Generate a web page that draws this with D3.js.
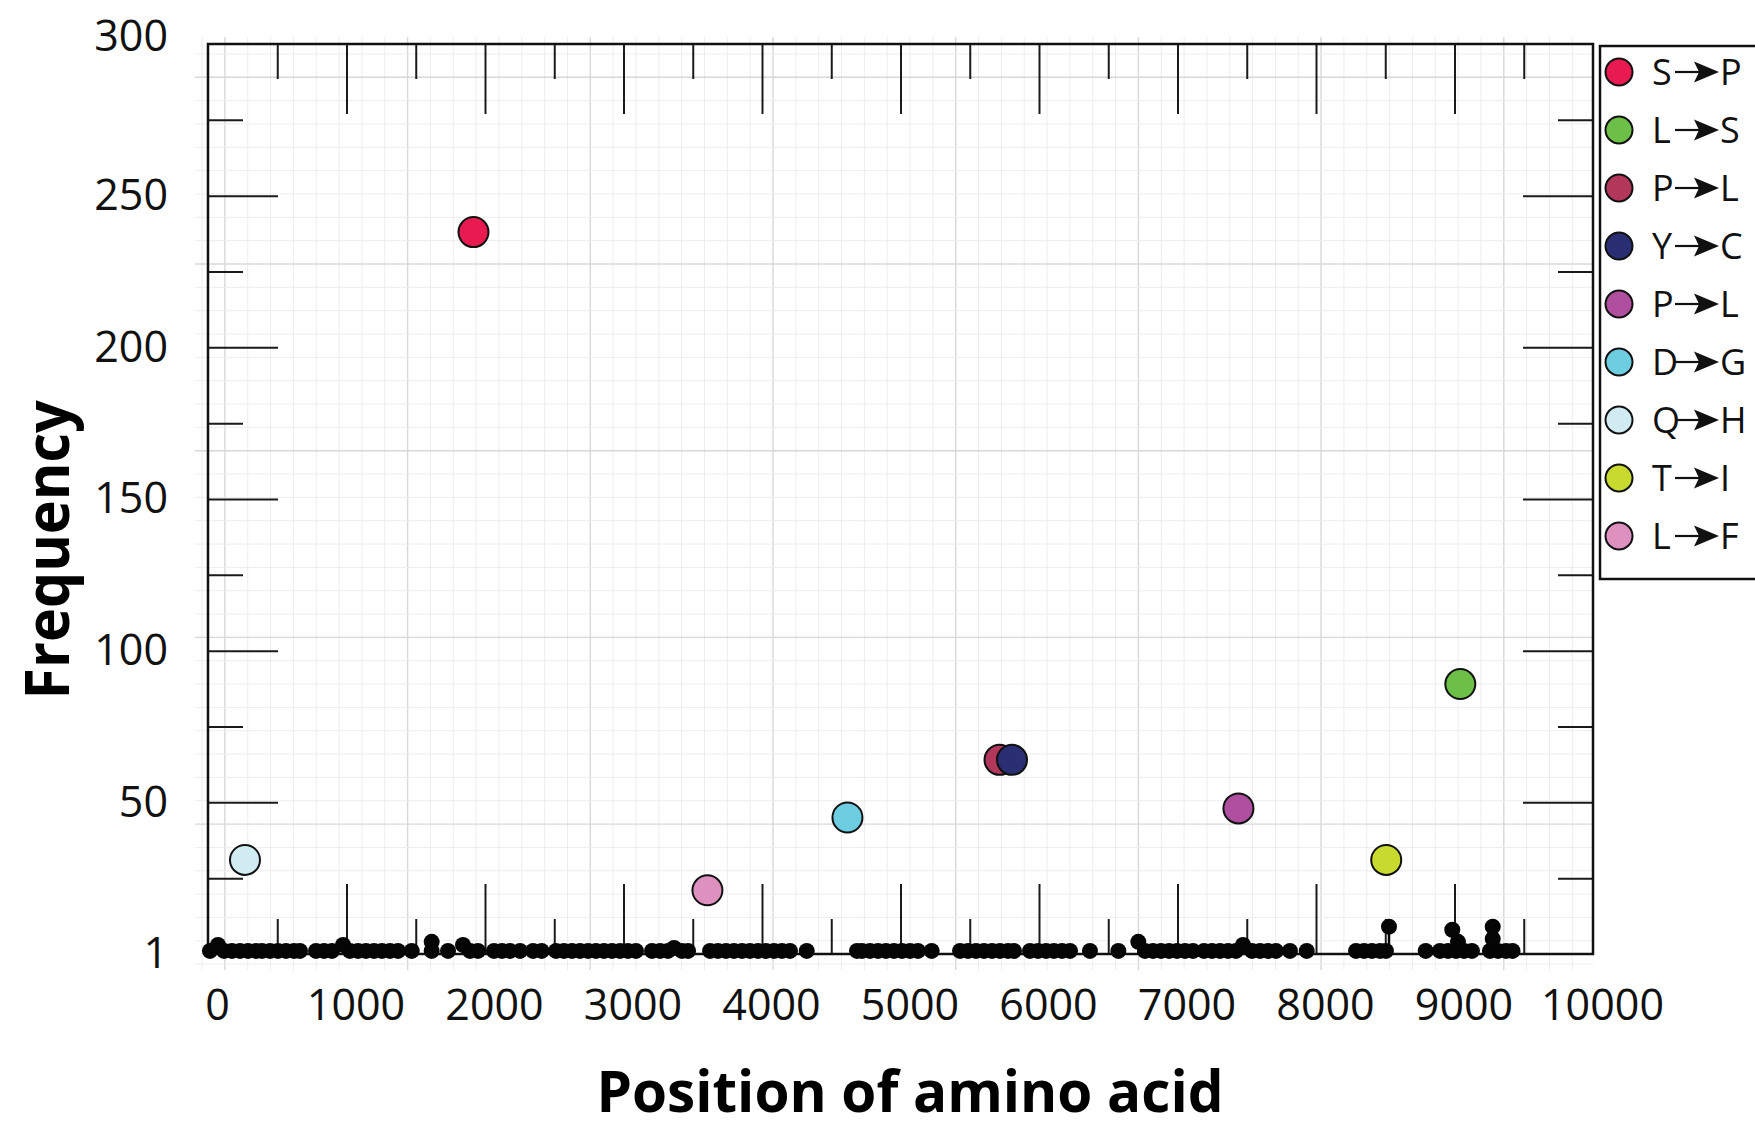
<!DOCTYPE html>
<html>
<head>
<meta charset="utf-8">
<script src="https://cdn.jsdelivr.net/npm/d3@7"></script>
<style>
body { margin: 0; background: #fff; }
svg { display: block; }
</style>
</head>
<body>
<script>
var width = 1755
var height = 1131
var left = 208, right = 1593, top_ = 44, bottom = 954
var font = "'Open Sans', 'Noto Sans', sans-serif"

// tick values and labels
var x_long = [1000, 2000, 3000, 4000, 5000, 6000, 7000, 8000, 9000]
var x_short = [500, 1500, 2500, 3500, 4500, 5500, 6500, 7500, 8500, 9500]
var x_label_vals = [0, 1000, 2000, 3000, 4000, 5000, 6000, 7000, 8000, 9000, 10000]
var y_long = [50, 100, 150, 200, 250]
var y_short = [25, 75, 125, 175, 225, 275]
var y_label_vals = [0, 50, 100, 150, 200, 250, 300]
var y_labels = ["1", "50", "100", "150", "200", "250", "300"]

// highlighted substitutions (legend order)
var mut_from = ["S", "L", "P", "Y", "P", "D", "Q", "T", "L"]
var mut_to = ["P", "S", "L", "C", "L", "G", "H", "I", "F"]
var mut_pos = [1917, 9042, 5715, 5805, 7440, 4617, 267, 8507, 3606]
var mut_freq = [238, 89, 64, 64, 48, 45, 31, 31, 21]
var mut_colors = ["#e81a50", "#6cbf47", "#b2375b", "#2a2e73", "#b04fa0", "#6dcde1", "#d0ebf1", "#c9da2e", "#de90bf"]

// other substitutions seen once
var low_pos = [14, 116, 173, 231, 289, 347, 390, 448, 505, 563, 621, 664, 780, 838, 895,
  1025, 1083, 1141, 1199, 1256, 1314, 1372, 1471, 1615, 1733, 1892, 1949, 2065, 2123,
  2181, 2253, 2347, 2409, 2513, 2570, 2628, 2686, 2744, 2801, 2859, 2917, 2975, 3032,
  3090, 3206, 3264, 3321, 3422, 3466, 3625, 3682, 3740, 3798, 3856, 3913, 3971, 4029,
  4087, 4144, 4202, 4323, 4686, 4722, 4780, 4838, 4895, 4953, 5011, 5069, 5126, 5225,
  5430, 5487, 5545, 5603, 5661, 5718, 5776, 5819, 5935, 5993, 6051, 6108, 6166, 6224,
  6368, 6573, 6765, 6823, 6881, 6939, 6996, 7054, 7112, 7191, 7249, 7307, 7365, 7422,
  7538, 7596, 7653, 7711, 7812, 7933, 8289, 8347, 8404, 8462, 8505, 8792, 8895, 8953,
  9011, 9069, 9126, 9256, 9314, 9372, 9419]
// a few seen more than once
var raised_pos = [72, 975, 1615, 1841, 3365, 6717, 7473, 8527, 8984, 9025, 9276, 9276]
var raised_freq = [3, 3, 4, 3, 2, 4, 3, 9, 8, 4, 9, 5]

var x = d3.scaleLinear()
.domain([0, 10000])
.range([left, right])

var y = d3.scaleLinear()
.domain([0, 300])
.range([bottom, top_])

var svg = d3.select("body").append("svg")
.attr("width", width)
.attr("height", height)

// graph paper behind the plot
var grid = svg.append("g")
var step_x = 182.7 / 8, step_y = 186.7 / 8
for (var i = -1; 224.9 + i * step_x <= right; i++) {
    var gx = 224.9 + i * step_x
    grid.append("line")
    .attr("x1", gx).attr("x2", gx).attr("y1", 37).attr("y2", 970)
    .attr("stroke", i % 8 == 0 ? "#d8d8d8" : "#ededed")
    .attr("stroke-width", i % 8 == 0 ? 1.4 : 1)
}
for (var j = -1; 77.3 + j * step_y <= 970; j++) {
    var gy = 77.3 + j * step_y
    grid.append("line")
    .attr("x1", 195).attr("x2", right).attr("y1", gy).attr("y2", gy)
    .attr("stroke", j % 8 == 0 ? "#d8d8d8" : "#ededed")
    .attr("stroke-width", j % 8 == 0 ? 1.4 : 1)
}

function ticks(axis, tr, vals, size) {
    svg.append("g")
    .attr("transform", tr)
    .call(axis.tickValues(vals).tickSize(size).tickFormat(""))
    .call(function(g) { g.select(".domain").remove() })
    .selectAll("line")
    .attr("stroke", "#1a1a1a")
    .attr("stroke-width", 2)
}

ticks(d3.axisTop(x), "translate(0," + top_ + ")", x_long, -70)
ticks(d3.axisTop(x), "translate(0," + top_ + ")", x_short, -35)
ticks(d3.axisBottom(x), "translate(0," + bottom + ")", x_long, -70)
ticks(d3.axisBottom(x), "translate(0," + bottom + ")", x_short, -35)
ticks(d3.axisLeft(y), "translate(" + left + ",0)", y_long, -70)
ticks(d3.axisLeft(y), "translate(" + left + ",0)", y_short, -35)
ticks(d3.axisRight(y), "translate(" + right + ",0)", y_long, -70)
ticks(d3.axisRight(y), "translate(" + right + ",0)", y_short, -35)

svg.append("rect")
.attr("x", left).attr("y", top_)
.attr("width", right - left).attr("height", bottom - top_)
.attr("fill", "none")
.attr("stroke", "#111")
.attr("stroke-width", 2.5)

// tick labels
svg.append("g")
.attr("transform", "translate(" + left + ",0)")
.call(d3.axisLeft(y).tickValues(y_label_vals).tickSize(0).tickPadding(40)
    .tickFormat(function(d, i) { return y_labels[i] }))
.call(function(g) { g.select(".domain").remove() })
.selectAll("text")
.attr("dy", function(d) { return d == 300 ? "0.15em" : "0.32em" })
.attr("font-family", font)
.attr("font-size", 43)
.attr("fill", "#111")

svg.append("g")
.attr("transform", "translate(0," + bottom + ")")
.call(d3.axisBottom(x).tickValues(x_label_vals).tickSize(0).tickPadding(35)
    .tickFormat(d3.format("d")))
.call(function(g) { g.select(".domain").remove() })
.selectAll("text")
.attr("dx", 9)
.attr("font-family", font)
.attr("font-size", 43)
.attr("fill", "#111")

// black lollipops
var dots = low_pos.map(function(p) { return {pos: p, freq: 1} })
.concat(raised_pos.map(function(p, i) { return {pos: p, freq: raised_freq[i]} }))

svg.append("g")
.selectAll("line")
.data(dots)
.enter().append("line")
.attr("x1", function(d) { return x(d.pos) })
.attr("x2", function(d) { return x(d.pos) })
.attr("y1", y(0))
.attr("y2", function(d) { return y(d.freq) })
.attr("stroke", "#050505")
.attr("stroke-width", 2.5)

svg.append("g")
.selectAll("circle")
.data(dots)
.enter().append("circle")
.attr("cx", function(d) { return x(d.pos) })
.attr("cy", function(d) { return y(d.freq) })
.attr("r", 8)
.style("fill", "#050505")

// highlighted substitutions
svg.append("g")
.selectAll("circle")
.data(mut_pos)
.enter().append("circle")
.attr("cx", function(d) { return x(d) })
.attr("cy", function(d, i) { return y(mut_freq[i]) })
.attr("r", 15)
.style("fill", function(d, i) { return mut_colors[i] })
.style("stroke", "#111")
.style("stroke-width", 2)

// legend
svg.append("rect")
.attr("x", 1600).attr("y", 46)
.attr("width", 200).attr("height", 533)
.attr("fill", "#fff")
.attr("stroke", "#111")
.attr("stroke-width", 2.5)

var ly = d3.scalePoint()
.domain(d3.range(mut_from.length))
.range([72, 536])

var entry = svg.append("g")
.selectAll("g")
.data(mut_from)
.enter().append("g")
.attr("transform", function(d, i) { return "translate(0," + ly(i) + ")" })

entry.append("circle")
.attr("cx", 1619)
.attr("r", 13.5)
.style("fill", function(d, i) { return mut_colors[i] })
.style("stroke", "#111")
.style("stroke-width", 2)

entry.append("text")
.attr("x", 1652)
.attr("dy", "0.36em")
.attr("font-family", font)
.attr("font-size", 36)
.attr("fill", "#111")
.text(function(d) { return d })

entry.append("line")
.attr("x1", 1675).attr("x2", 1700)
.attr("stroke", "#111")
.attr("stroke-width", 2.2)

entry.append("polygon")
.attr("points", "1694,-10.5 1719,0 1694,10.5 1699,0")
.attr("fill", "#111")

entry.append("text")
.attr("x", 1720)
.attr("dy", "0.36em")
.attr("font-family", font)
.attr("font-size", 36)
.attr("fill", "#111")
.text(function(d, i) { return mut_to[i] })

// axis titles
svg.append("text")
.attr("x", 910)
.attr("y", 1112)
.attr("text-anchor", "middle")
.attr("font-family", font)
.attr("font-weight", "bold")
.attr("font-size", 58)
.attr("textLength", 627)
.attr("lengthAdjust", "spacingAndGlyphs")
.attr("fill", "#000")
.text("Position of amino acid")

svg.append("text")
.attr("transform", "translate(69,550) rotate(-90)")
.attr("text-anchor", "middle")
.attr("font-family", font)
.attr("font-weight", "bold")
.attr("font-size", 60)
.attr("textLength", 299)
.attr("lengthAdjust", "spacingAndGlyphs")
.attr("fill", "#000")
.text("Frequency")
</script>
</body>
</html>
